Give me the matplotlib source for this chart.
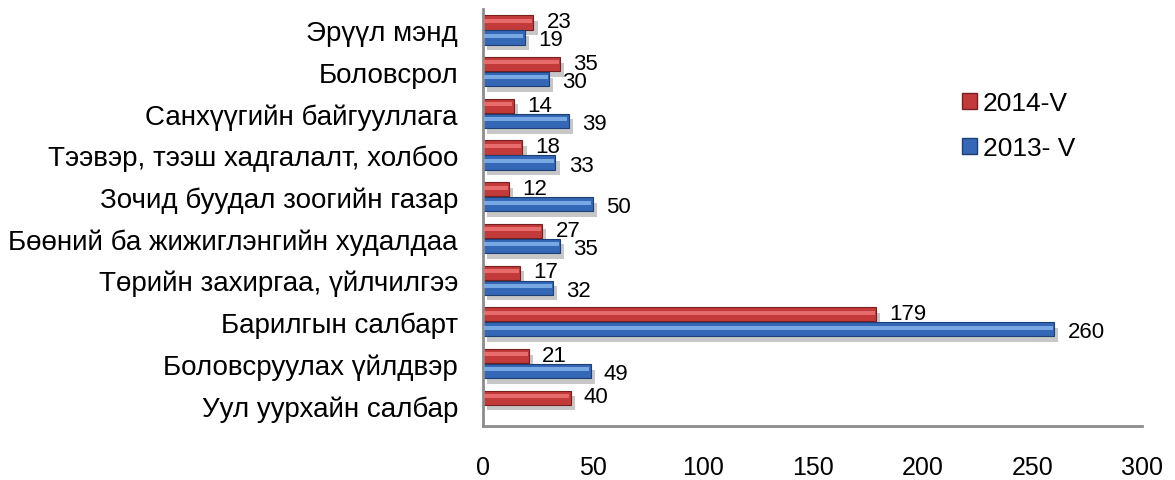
import numpy as np
import matplotlib.pyplot as plt
import matplotlib.patheffects as pe
from matplotlib.patches import Patch

plt.rcParams.update({
    "font.family": ["Liberation Sans", "DejaVu Sans"],
})

categories = [
    "Уул уурхайн салбар",
    "Боловсруулах үйлдвэр",
    "Барилгын салбарт",
    "Төрийн захиргаа, үйлчилгээ",
    "Бөөний ба жижиглэнгийн худалдаа",
    "Зочид буудал зоогийн газар",
    "Тээвэр, тээш хадгалалт, холбоо",
    "Санхүүгийн байгууллага",
    "Боловсрол",
    "Эрүүл мэнд",
]
values_2014 = [40, 21, 179, 17, 27, 12, 18, 14, 35, 23]
values_2013 = [np.nan, 49, 260, 32, 35, 50, 33, 39, 30, 19]
series_names = ["2014-V", "2013- V"]
x_ticks = [0, 50, 100, 150, 200, 250, 300]

RED = "#C23A3A"
RED_HI = "#EE7474"
RED_EDGE = "#7A1F1F"
BLUE = "#3467B5"
BLUE_HI = "#84B4EC"
BLUE_EDGE = "#1E3F73"

shadow = [pe.SimplePatchShadow(offset=(3, -4), shadow_rgbFace="#9A9A9A", alpha=0.55),
          pe.Normal()]

fig = plt.figure(figsize=(11.75, 4.81), dpi=100)
ax = fig.add_axes([0.411, 0.112, 0.561, 0.867])

y = np.arange(len(categories))
h = 0.34
off = 0.18


def draw(vals, dy, label_dy, base, hi, edge):
    vals = np.asarray(vals, dtype=float)
    mask = ~np.isnan(vals)
    yy = y[mask] + dy
    vv = vals[mask]
    ax.barh(yy, vv, height=h, color=base, edgecolor=edge, linewidth=0.8,
            path_effects=shadow, zorder=2)
    # glossy highlight strip
    ax.barh(yy + h * 0.12, vv - 1.2, left=0.6, height=h * 0.28, color=hi,
            edgecolor="none", alpha=0.85, zorder=3)
    for yi, v in zip(yy, vv):
        ax.text(v + 6, yi + label_dy, f"{v:g}", va="center", ha="left",
                fontsize=16, color="black", zorder=4)


draw(values_2014, off, 0.02, RED, RED_HI, RED_EDGE)
draw(values_2013, -off, -0.06, BLUE, BLUE_HI, BLUE_EDGE)

ax.set_xlim(0, 300)
ax.set_ylim(-0.5, len(categories) - 0.5)
ax.set_xticks(x_ticks)
ax.set_yticks(y)
ax.set_yticklabels(categories)
ax.tick_params(axis="x", length=0, pad=21, labelsize=18)
ax.tick_params(axis="y", length=0, pad=18, labelsize=20)
for s in ["top", "right"]:
    ax.spines[s].set_visible(False)
for s in ["left", "bottom"]:
    ax.spines[s].set_color("#8C8C8C")
    ax.spines[s].set_linewidth(2)

handles = [Patch(facecolor=RED, edgecolor=RED_EDGE),
           Patch(facecolor=BLUE, edgecolor=BLUE_EDGE)]
ax.legend(handles, series_names, loc="upper left", bbox_to_anchor=(0.69, 0.86),
          frameon=False, fontsize=19, handlelength=0.6, handleheight=0.6,
          handletextpad=0.2, labelspacing=0.8)

fig.savefig("out.png", dpi=100)
